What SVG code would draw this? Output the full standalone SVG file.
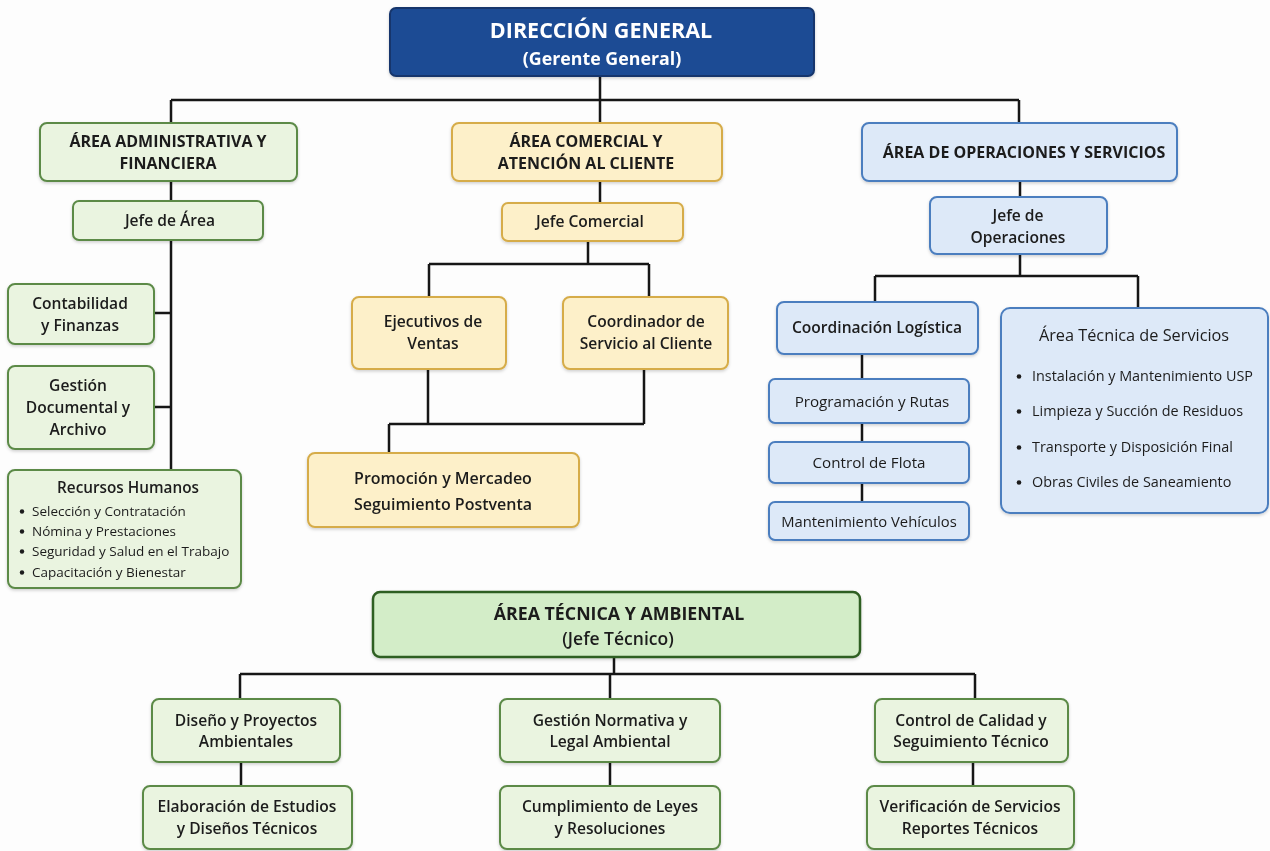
<svg xmlns="http://www.w3.org/2000/svg" width="1270" height="851" viewBox="0 0 1270 851">
<defs>
<filter id="sh" x="-5%" y="-5%" width="110%" height="120%">
<feDropShadow dx="0" dy="1.5" stdDeviation="1.5" flood-color="#000" flood-opacity="0.18"/>
</filter>
<style>
text{font-family:"Open Sans","Liberation Sans",sans-serif;fill:#1c1c1c;text-anchor:middle}
.g{fill:#eaf4e0;stroke:#5b8a47;stroke-width:2}
.y{fill:#fdf0c9;stroke:#d6ac48;stroke-width:2}
.b{fill:#dde9f8;stroke:#4b7ebf;stroke-width:2}
.top{fill:#1e4b94;stroke:#15366c;stroke-width:2}
.gm{fill:#d3edc8;stroke:#2f5f22;stroke-width:2.5}
.h{font-weight:700;font-size:16px}
.s{font-weight:600;font-size:15.6px}
.r{font-size:13.5px;text-anchor:start}
.rb{font-size:14.4px;text-anchor:start}
.w{fill:#fff;font-weight:700}
.c{fill:none;stroke:#161616;stroke-width:2.5}
.dot{fill:#1c1c1c}
</style>
</defs>
<rect width="1270" height="851" fill="#fdfdfd"/>
<g id="connectors" class="c">
<path d="M600 76V100M171 100H1019M171 100V122M600 100V123M1019 100V123"/>
<path d="M171 180V201M171 240V470M154 313H171M154 407H171"/>
<path d="M600 181V203M588 241V264M429 264H649M429 264V297M649 264V297"/>
<path d="M428 369V424M644 369V424M389 424H644M389 424V453"/>
<path d="M1020 181V197M1020 254V276M875 276H1138M875 276V302M1138 276V308"/>
<path d="M862 354V379M862 423V442M862 483V502"/>
<path d="M614 657V674M240 674H975M240 674V699M610 674V699M975 674V699"/>
<path d="M241 762V786M610 762V786M973 762V786"/>
</g>
<g id="direccion" filter="url(#sh)">
<rect class="top" x="390" y="8" width="424" height="68" rx="6"/>
<text class="w" x="601" y="38" font-size="21.5">DIRECCIÓN GENERAL</text>
<text class="w" x="602" y="65" font-size="17.8">(Gerente General)</text>
</g>
<g id="area-admin" filter="url(#sh)">
<rect class="g" x="40" y="123" width="257" height="58" rx="7"/>
<text class="h" x="168" y="147">ÁREA ADMINISTRATIVA Y</text>
<text class="h" x="168" y="169">FINANCIERA</text>
</g>
<g id="jefe-area" filter="url(#sh)">
<rect class="g" x="73" y="201" width="190" height="39" rx="6"/>
<text class="s" x="170" y="226" font-size="16.5">Jefe de Área</text>
</g>
<g id="contabilidad" filter="url(#sh)">
<rect class="g" x="8" y="284" width="146" height="60" rx="7"/>
<text class="s" x="80" y="309">Contabilidad</text>
<text class="s" x="80" y="331">y Finanzas</text>
</g>
<g id="gestion-doc" filter="url(#sh)">
<rect class="g" x="8" y="366" width="146" height="83" rx="7"/>
<text class="s" x="78" y="391">Gestión</text>
<text class="s" x="78" y="413">Documental y</text>
<text class="s" x="78" y="435">Archivo</text>
</g>
<g id="rrhh" filter="url(#sh)">
<rect class="g" x="8" y="470" width="233" height="118" rx="7"/>
<text x="128" y="493" font-size="15.3" font-weight="600">Recursos Humanos</text>
<circle class="dot" cx="22" cy="511.5" r="2.2"/>
<text class="r" x="32" y="516">Selección y Contratación</text>
<circle class="dot" cx="22" cy="531.5" r="2.2"/>
<text class="r" x="32" y="536">Nómina y Prestaciones</text>
<circle class="dot" cx="22" cy="551.5" r="2.2"/>
<text class="r" x="32" y="556">Seguridad y Salud en el Trabajo</text>
<circle class="dot" cx="22" cy="572.5" r="2.2"/>
<text class="r" x="32" y="577">Capacitación y Bienestar</text>
</g>
<g id="area-comercial" filter="url(#sh)">
<rect class="y" x="452" y="123" width="270" height="58" rx="7"/>
<text class="h" x="586" y="147">ÁREA COMERCIAL Y</text>
<text class="h" x="586" y="169">ATENCIÓN AL CLIENTE</text>
</g>
<g id="jefe-comercial" filter="url(#sh)">
<rect class="y" x="502" y="203" width="181" height="38" rx="6"/>
<text class="s" x="590" y="227" font-size="16">Jefe Comercial</text>
</g>
<g id="ejecutivos" filter="url(#sh)">
<rect class="y" x="352" y="297" width="154" height="72" rx="7"/>
<text class="s" x="433" y="327">Ejecutivos de</text>
<text class="s" x="433" y="349">Ventas</text>
</g>
<g id="coordinador" filter="url(#sh)">
<rect class="y" x="563" y="297" width="165" height="72" rx="7"/>
<text class="s" x="646" y="327">Coordinador de</text>
<text class="s" x="646" y="349">Servicio al Cliente</text>
</g>
<g id="promocion" filter="url(#sh)">
<rect class="y" x="308" y="453" width="271" height="74" rx="7"/>
<text x="443" y="484" font-size="16" font-weight="600">Promoción y Mercadeo</text>
<text x="443" y="510" font-size="16" font-weight="600">Seguimiento Postventa</text>
</g>
<g id="area-operaciones" filter="url(#sh)">
<rect class="b" x="862" y="123" width="315" height="58" rx="7"/>
<text class="h" x="1024" y="158" font-size="15.8">ÁREA DE OPERACIONES Y SERVICIOS</text>
</g>
<g id="jefe-operaciones" filter="url(#sh)">
<rect class="b" x="930" y="197" width="177" height="57" rx="7"/>
<text class="s" x="1018" y="221">Jefe de</text>
<text class="s" x="1018" y="243">Operaciones</text>
</g>
<g id="coord-logistica" filter="url(#sh)">
<rect class="b" x="777" y="302" width="201" height="52" rx="7"/>
<text class="s" x="877" y="333">Coordinación Logística</text>
</g>
<g id="programacion" filter="url(#sh)">
<rect class="b" x="769" y="379" width="200" height="44" rx="6"/>
<text x="872" y="407" font-size="15.2">Programación y Rutas</text>
</g>
<g id="control-flota" filter="url(#sh)">
<rect class="b" x="769" y="442" width="200" height="41" rx="6"/>
<text x="869" y="468" font-size="15.2">Control de Flota</text>
</g>
<g id="mantenimiento" filter="url(#sh)">
<rect class="b" x="769" y="502" width="200" height="38" rx="6"/>
<text x="869" y="527" font-size="14.8">Mantenimiento Vehículos</text>
</g>
<g id="area-tecnica-servicios" filter="url(#sh)">
<rect class="b" x="1001" y="308" width="267" height="205" rx="9"/>
<text x="1134" y="341" font-size="16.3">Área Técnica de Servicios</text>
<circle class="dot" cx="1019" cy="376.5" r="2.3"/>
<text class="rb" x="1032" y="381">Instalación y Mantenimiento USP</text>
<circle class="dot" cx="1019" cy="411.5" r="2.3"/>
<text class="rb" x="1032" y="416">Limpieza y Succión de Residuos</text>
<circle class="dot" cx="1019" cy="447.5" r="2.3"/>
<text class="rb" x="1032" y="452">Transporte y Disposición Final</text>
<circle class="dot" cx="1019" cy="482.5" r="2.3"/>
<text class="rb" x="1032" y="487">Obras Civiles de Saneamiento</text>
</g>
<g id="area-tecnica-ambiental" filter="url(#sh)">
<rect class="gm" x="373" y="592" width="487" height="65" rx="7"/>
<text x="619" y="620" font-size="17.8" font-weight="700">ÁREA TÉCNICA Y AMBIENTAL</text>
<text x="618" y="645" font-size="17.5" font-weight="600">(Jefe Técnico)</text>
</g>
<g id="diseno" filter="url(#sh)">
<rect class="g" x="152" y="699" width="188" height="63" rx="7"/>
<text class="s" x="246" y="726" font-size="15">Diseño y Proyectos</text>
<text class="s" x="246" y="747" font-size="15">Ambientales</text>
</g>
<g id="gestion-normativa" filter="url(#sh)">
<rect class="g" x="500" y="699" width="220" height="63" rx="7"/>
<text class="s" x="610" y="726" font-size="15">Gestión Normativa y</text>
<text class="s" x="610" y="747" font-size="15">Legal Ambiental</text>
</g>
<g id="control-calidad" filter="url(#sh)">
<rect class="g" x="875" y="699" width="193" height="63" rx="7"/>
<text class="s" x="971" y="726" font-size="15">Control de Calidad y</text>
<text class="s" x="971" y="747" font-size="15">Seguimiento Técnico</text>
</g>
<g id="elaboracion" filter="url(#sh)">
<rect class="g" x="143" y="786" width="209" height="63" rx="7"/>
<text class="s" x="247" y="812" font-size="15">Elaboración de Estudios</text>
<text class="s" x="247" y="834" font-size="15">y Diseños Técnicos</text>
</g>
<g id="cumplimiento" filter="url(#sh)">
<rect class="g" x="500" y="786" width="220" height="63" rx="7"/>
<text class="s" x="610" y="812" font-size="15">Cumplimiento de Leyes</text>
<text class="s" x="610" y="834" font-size="15">y Resoluciones</text>
</g>
<g id="verificacion" filter="url(#sh)">
<rect class="g" x="867" y="786" width="207" height="63" rx="7"/>
<text class="s" x="970" y="812" font-size="15">Verificación de Servicios</text>
<text class="s" x="970" y="834" font-size="15">Reportes Técnicos</text>
</g>
</svg>
